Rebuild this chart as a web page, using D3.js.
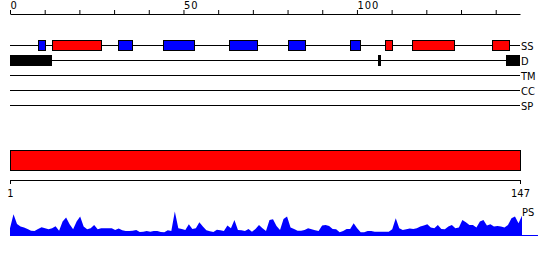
<!DOCTYPE html>
<html><head>
<meta charset="utf-8">
<script src="https://d3js.org/d3.v7.min.js"></script>
<style>
  body { margin: 0; background: #fff; }
  text { font-family: "DejaVu Sans Condensed", "Liberation Sans Narrow", "DejaVu Sans", sans-serif; font-size: 11px; fill: #000; }
</style>
</head>
<body>
<div id="container"></div>
<script>
// DATA
const topTicks = [0, 10, 20, 30, 40, 50, 60, 70, 80, 90, 100, 110, 120, 130, 140];
const topLabels = [0, 50, 100];
const bottomTicks = [1, 147];
const trackLabels = ["SS", "D", "TM", "CC", "SP"];
// secondary structure: [start, end, type]  E = blue, H = red
const ssSegments = [[8, 10, "E"], [12, 26, "H"], [31, 35, "E"], [44, 53, "E"], [63, 71, "E"],
                    [80, 85, "E"], [98, 101, "E"], [108, 110, "H"], [116, 128, "H"], [139, 144, "H"]];
const disorderSegments = [[0, 12], [106, 107], [143, 147]];
const domainSegments = [[0, 147]];
const psValues = [20, 62, 33, 25, 22, 18, 13, 12, 18, 23,
                  20, 17, 20, 26, 13, 40, 52, 32, 17, 40,
                  55, 25, 17, 20, 30, 17, 20, 20, 20, 20,
                  15, 19, 14, 12, 12, 13, 15, 9, 10, 12,
                  10, 12, 12, 9, 8, 14, 12, 70, 20, 18,
                  15, 32, 18, 20, 38, 25, 14, 11, 9, 16,
                  14, 12, 28, 20, 45, 15, 14, 12, 18, 10,
                  18, 30, 20, 12, 45, 47, 27, 15, 48, 55,
                  22, 18, 13, 13, 15, 20, 17, 14, 12, 28,
                  30, 27, 18, 17, 8, 12, 18, 18, 35, 20,
                  8, 8, 12, 12, 10, 10, 10, 10, 10, 17,
                  50, 20, 15, 17, 19, 18, 20, 25, 28, 32,
                  22, 20, 30, 18, 17, 25, 30, 20, 22, 45,
                  38, 30, 30, 22, 40, 45, 28, 32, 25, 27,
                  25, 22, 30, 50, 55, 35, 57];

const width = 550, height = 260;
const svg = d3.select("#container").append("svg")
              .attr("width", width).attr("height", height);

const xScale = d3.scaleLinear().domain([0, 147]).range([10, 520]);
const resScale = d3.scaleLinear().domain([1, 147]).range([10, 520]);
const psX = d3.scaleLinear().domain([1, 147]).range([10, 522]);
const psY = d3.scaleLinear().domain([0, 70]).range([235, 211.5]);

// top axis
const topAxis = d3.axisTop(xScale).tickValues(topTicks).tickSize(4).tickSizeOuter(0)
                  .tickFormat(d => topLabels.includes(d) ? d : "");
const topG = svg.append("g").attr("transform", "translate(0,14)").call(topAxis);
topG.select(".domain").attr("stroke", "#000");
topG.selectAll(".tick line").attr("stroke", "#000");
topG.selectAll(".tick text").attr("text-anchor", "start").attr("y", -5.5)
    .attr("font-size", null).attr("font-family", null).attr("letter-spacing", "1px");
topG.attr("font-size", null).attr("font-family", null);

// tracks
const trackY = d3.scalePoint().domain(trackLabels).range([45, 105]);
const tracks = svg.append("g").attr("shape-rendering", "crispEdges");
trackLabels.forEach(t => {
  tracks.append("line")
        .attr("x1", xScale(0)).attr("x2", xScale(147))
        .attr("y1", trackY(t) + 0.5).attr("y2", trackY(t) + 0.5)
        .attr("stroke", "#000");
  svg.append("text").attr("x", xScale(147) + 1).attr("y", trackY(t) + 4.5).text(t);
});

tracks.selectAll("rect.ss").data(ssSegments).join("rect").attr("class", "ss")
      .attr("x", d => Math.round(xScale(d[0])) + 0.5)
      .attr("width", d => Math.round(xScale(d[1]) - xScale(d[0])))
      .attr("y", trackY("SS") - 4.5).attr("height", 10)
      .attr("fill", d => d[2] === "H" ? "#ff0000" : "#0000ff")
      .attr("stroke", "#000");

tracks.selectAll("rect.dis").data(disorderSegments).join("rect").attr("class", "dis")
      .attr("x", d => xScale(d[0]))
      .attr("width", d => xScale(d[1]) - xScale(d[0]))
      .attr("y", trackY("D") - 5).attr("height", 11)
      .attr("fill", "#000");

// domain bar
svg.selectAll("rect.dom").data(domainSegments).join("rect").attr("class", "dom")
   .attr("x", d => xScale(d[0]) + 0.5).attr("width", d => xScale(d[1]) - xScale(d[0]))
   .attr("y", 150.5).attr("height", 20)
   .attr("fill", "#ff0000").attr("stroke", "#000").attr("shape-rendering", "crispEdges");

// bottom axis
const botAxis = d3.axisBottom(resScale).tickValues(bottomTicks).tickSize(4).tickSizeOuter(0).tickPadding(5);
const botG = svg.append("g").attr("transform", "translate(0,180)").call(botAxis);
botG.attr("font-size", null).attr("font-family", null);
botG.select(".domain").attr("stroke", "#000");
botG.selectAll(".tick line").attr("stroke", "#000");

// PS profile
const area = d3.area().x((d, i) => psX(i + 1)).y0(psY(0)).y1(d => psY(d));
svg.append("path").datum(psValues).attr("d", area).attr("fill", "#0000ff");
svg.append("line").attr("x1", 10).attr("x2", 538).attr("y1", psY(0) + 0.5).attr("y2", psY(0) + 0.5)
   .attr("stroke", "#0000ff").attr("shape-rendering", "crispEdges");
svg.append("text").attr("x", 522).attr("y", 216).text("PS");
</script>
</body>
</html>
